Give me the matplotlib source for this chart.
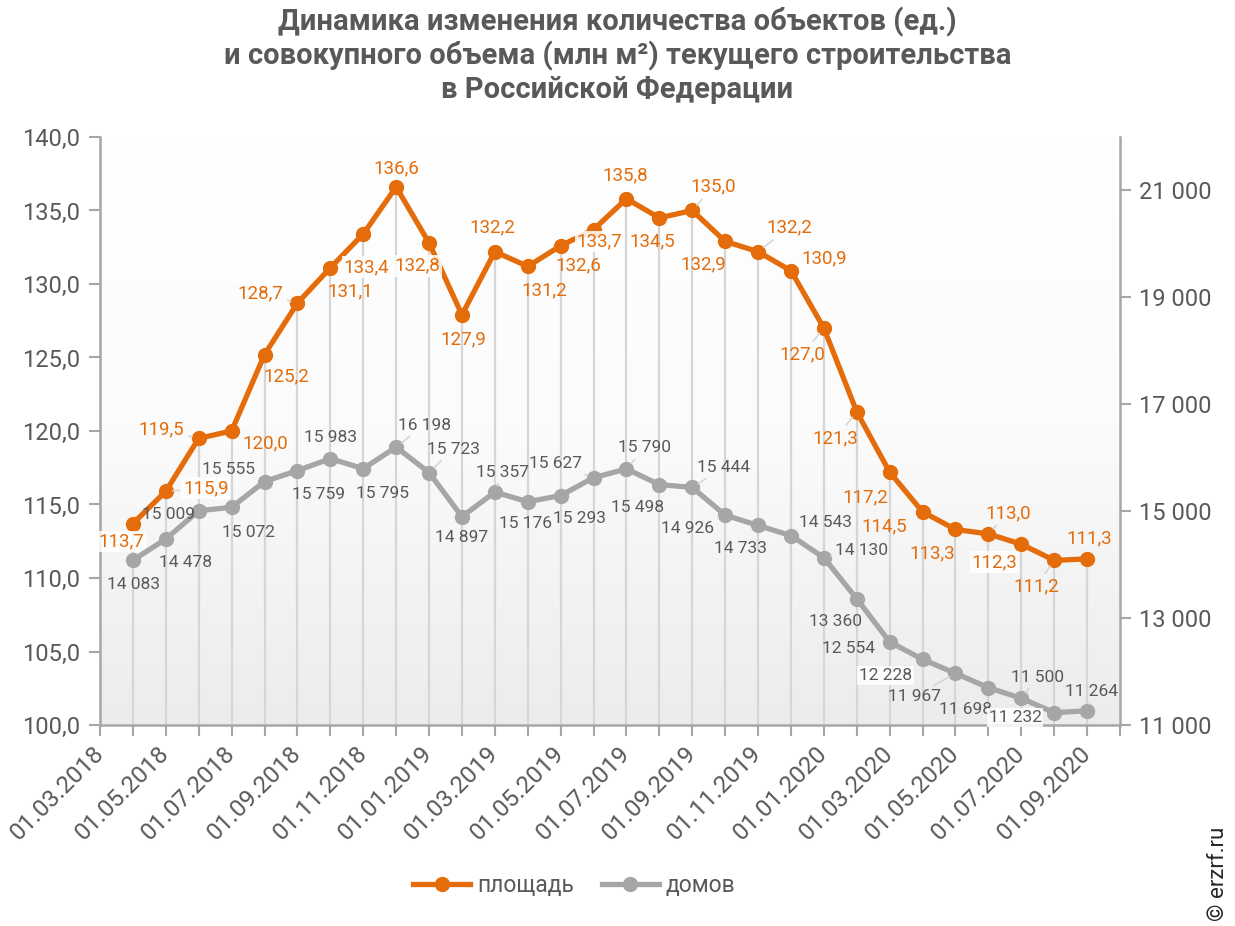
import numpy as np
import matplotlib
matplotlib.use('Agg')
import matplotlib.pyplot as plt
from matplotlib.colors import LinearSegmentedColormap

plt.rcParams['font.family'] = ['Roboto', 'DejaVu Sans']

title = ("Динамика изменения количества объектов (ед.)\n"
         "и совокупного объема (млн м²) текущего строительства\n"
         "в Российской Федерации")

months = ['01.03.2018', '01.04.2018', '01.05.2018', '01.06.2018', '01.07.2018',
          '01.08.2018', '01.09.2018', '01.10.2018', '01.11.2018', '01.12.2018',
          '01.01.2019', '01.02.2019', '01.03.2019', '01.04.2019', '01.05.2019',
          '01.06.2019', '01.07.2019', '01.08.2019', '01.09.2019', '01.10.2019',
          '01.11.2019', '01.12.2019', '01.01.2020', '01.02.2020', '01.03.2020',
          '01.04.2020', '01.05.2020', '01.06.2020', '01.07.2020', '01.08.2020',
          '01.09.2020']
dates = months[1:]

area = [113.7, 115.9, 119.5, 120.0, 125.2, 128.7, 131.1, 133.4, 136.6, 132.8,
        127.9, 132.2, 131.2, 132.6, 133.7, 135.8, 134.5, 135.0, 132.9, 132.2,
        130.9, 127.0, 121.3, 117.2, 114.5, 113.3, 113.0, 112.3, 111.2, 111.3]
houses = [14083, 14478, 15009, 15072, 15555, 15759, 15983, 15795, 16198, 15723,
          14897, 15357, 15176, 15293, 15627, 15790, 15498, 15444, 14926, 14733,
          14543, 14130, 13360, 12554, 12228, 11967, 11698, 11500, 11232, 11264]

series_names = ['площадь', 'домов']
tick_labels = months[::2]

# label layout (image pixels: dx right, dy down), white box flag, leader flag
area_offsets = [(-12, 18), (40, -3), (-37, -9), (34, 12), (22, 22), (-37, -10),
                (20, 24), (3, 33), (0, -19), (-12, 23), (1, 24), (-2, -24),
                (17, 24), (18, 20), (6, 12), (-1, -23), (-7, 24), (21, -24),
                (-22, 23), (31, -24), (33, -12), (-21, 26), (-21, 26), (-24, 25),
                (-38, 15), (-23, 24), (20, -21), (-27, 18), (-18, 26), (2, -21)]
area_box = {0, 1, 7, 9, 14, 27}
area_lead = {1, 2, 5, 17, 19, 21, 22, 26, 28}
house_offsets = [(1, 24), (20, 23), (-30, 4), (17, 25), (-36, -12), (21, 24),
                 (0, -21), (19, 25), (28, -22), (24, -23), (0, 21), (8, -20),
                 (-2, 22), (19, 23), (-38, -14), (18, -21), (-22, 23), (31, -20),
                 (-38, 13), (-18, 23), (35, -13), (38, -7), (-21, 23), (-41, 7),
                 (-37, 16), (-41, 23), (-23, 22), (16, -21), (-39, 5), (4, -19)]
house_box = {24, 28}
house_lead = {8, 9, 11, 14, 15, 17, 18, 21, 25, 27, 29}

ORANGE = '#E46C0A'
GRAY = '#A6A6A6'
TXT = '#595959'
AX = '#A6A6A6'

fig = plt.figure(figsize=(12.35, 9.26), dpi=100)
ax = fig.add_axes([100/1235, 1-725/926, 1020/1235, 588/926])
ax2 = ax.twinx()

x = np.arange(1, len(months))

# gradient background: white at top, light grey at bottom
grad = np.linspace(0, 1, 256).reshape(-1, 1)
cmap = LinearSegmentedColormap.from_list('bg', ['#ffffff', '#fbfbfb', '#ececec'])
ax.imshow(grad, cmap=cmap, aspect='auto', extent=[0, 1, 0, 1], origin='upper',
          transform=ax.transAxes, zorder=0, interpolation='bilinear')
ax.patch.set_visible(False)
ax2.patch.set_visible(False)

# drop lines
ax.vlines(x, 100, area, color='#d6d6d6', lw=1.6, zorder=1)

ax.set_xlim(0, 31)
ax.set_ylim(100, 140)
ax2.set_ylim(11000, 22000)

lo, = ax.plot(x, area, color=ORANGE, lw=3.8, marker='o', ms=10, zorder=5,
              label=series_names[0])
lg, = ax2.plot(x, houses, color=GRAY, lw=3.8, marker='o', ms=10, zorder=3,
               label=series_names[1])

def fmt_area(v):
    return f"{v:.1f}".replace('.', ',')

def fmt_houses(v):
    return f"{v:,}".replace(',', ' ')

for i, (xi, v) in enumerate(zip(x, area)):
    dx, dy = area_offsets[i]
    bbox = dict(boxstyle='square,pad=0.1', fc='white', ec='none', alpha=0.85) if i in area_box else None
    arrow = dict(arrowstyle='-', color='#d6d6d6', lw=1.2, shrinkA=1, shrinkB=5) if i in area_lead else None
    ax.annotate(fmt_area(v), xy=(xi, v), xytext=(dx, -dy), textcoords='offset pixels',
                ha='center', va='center', fontsize=13.5, color=ORANGE, zorder=6,
                bbox=bbox, arrowprops=arrow)

for i, (xi, v) in enumerate(zip(x, houses)):
    dx, dy = house_offsets[i]
    bbox = dict(boxstyle='square,pad=0.1', fc='white', ec='none', alpha=0.85) if i in house_box else None
    arrow = dict(arrowstyle='-', color='#d6d6d6', lw=1.2, shrinkA=1, shrinkB=5) if i in house_lead else None
    ax2.annotate(fmt_houses(v), xy=(xi, v), xytext=(dx, -dy), textcoords='offset pixels',
                 ha='center', va='center', fontsize=12.5, color=TXT, zorder=6,
                 bbox=bbox, arrowprops=arrow)

# axes styling
ax.set_yticks(np.arange(100, 141, 5))
ax.set_yticklabels([fmt_area(v) for v in np.arange(100, 141, 5)])
ax2.set_yticks(np.arange(11000, 21001, 2000))
ax2.set_yticklabels([fmt_houses(int(v)) for v in np.arange(11000, 21001, 2000)])

ax.set_xticks(np.arange(0, 31, 2))
ax.set_xticklabels(tick_labels, rotation=45, ha='right', va='center',
                   rotation_mode='anchor')
ax.set_xticks(np.arange(0, 32, 1), minor=True)

for a in (ax, ax2):
    a.spines['top'].set_visible(False)
    for s in ('left', 'right', 'bottom'):
        a.spines[s].set_color(AX)
        a.spines[s].set_linewidth(1.8)
ax.spines['right'].set_visible(False)
ax2.spines['left'].set_visible(False)
ax2.spines['bottom'].set_visible(False)

ax.tick_params(axis='y', colors=AX, labelcolor=TXT, labelsize=17, length=8,
               width=1.5, pad=6)
ax2.tick_params(axis='y', colors=AX, labelcolor=TXT, labelsize=17, length=8,
                width=1.5, pad=6)
ax.tick_params(axis='x', which='both', colors=AX, labelcolor=TXT, labelsize=17.5,
               length=8, width=1.5, pad=10)

fig.text(0.5, 0.993, title, ha='center', va='top', fontsize=21, fontweight='bold',
         color=TXT, linespacing=1.2)

leg = fig.legend(handles=[lo, lg], loc='center', bbox_to_anchor=(0.465, 0.044),
                 ncol=2, frameon=False, fontsize=16.5, handlelength=2.5,
                 columnspacing=1.2, handletextpad=0.3, labelcolor=TXT)

fig.text(0.987, 0.005, '© erzrf.ru', rotation=90, ha='center', va='bottom',
         fontsize=16, color='#262626')

fig.savefig('out.png', dpi=100)
